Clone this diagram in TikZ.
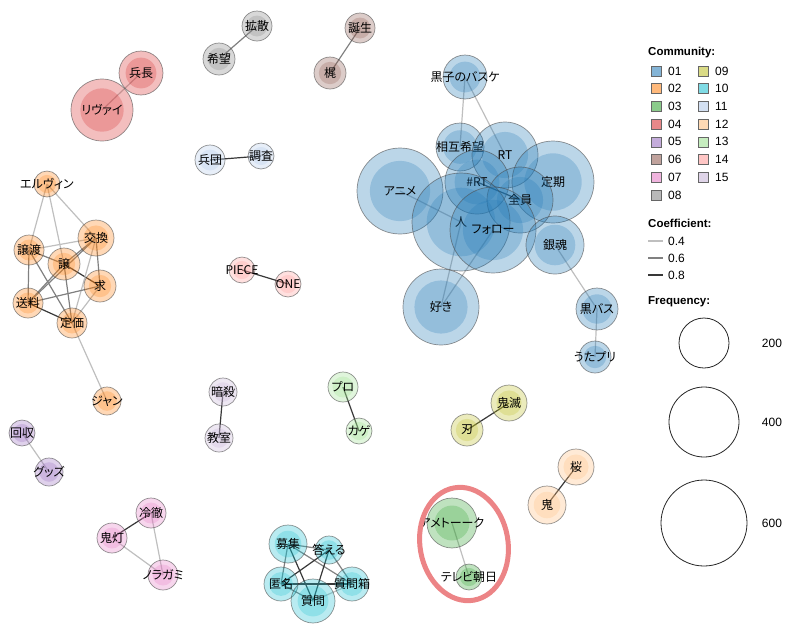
\documentclass[tikz,border=0pt]{standalone}
\usepackage{fontspec}
\setmainfont{Liberation Sans}
\newfontfamily\jp[RawFeature=+palt]{Noto Sans CJK JP}
\definecolor{c01}{HTML}{1F77B4}
\definecolor{c02}{HTML}{FF7F0E}
\definecolor{c03}{HTML}{2CA02C}
\definecolor{c04}{HTML}{D62728}
\definecolor{c05}{HTML}{9467BD}
\definecolor{c06}{HTML}{8C564B}
\definecolor{c07}{HTML}{E377C2}
\definecolor{c08}{HTML}{7F7F7F}
\definecolor{c09}{HTML}{BCBD22}
\definecolor{c10}{HTML}{17BECF}
\definecolor{c11}{HTML}{AEC7E8}
\definecolor{c12}{HTML}{FFBB78}
\definecolor{c13}{HTML}{98DF8A}
\definecolor{c14}{HTML}{FF9896}
\definecolor{c15}{HTML}{C5B0D5}
\definecolor{hl}{RGB}{236,132,134}
\pgfdeclarelayer{edges}
\pgfsetlayers{edges,main}
\tikzset{
  wn/.style={circle, inner sep=0pt, draw=black!70, draw opacity=0.6, line width=0.7pt,
    fill=#1, fill opacity=0.3, text opacity=1},
  lab/.style={font=\jp\fontsize{12}{12}\selectfont, fill opacity=1, text opacity=1, inner sep=0pt},
  ea/.style={draw=black!25, line width=1.2pt},
  eb/.style={draw=black!50, line width=1.2pt},
  ec/.style={draw=black!78, line width=1.2pt},
  sq/.style={rectangle, inner sep=0pt, minimum size=10pt, fill=#1, fill opacity=0.55,
    draw=black!60, line width=0.6pt},
  lt/.style={anchor=west, inner sep=0pt, font=\fontsize{12}{12}\selectfont},
  lh/.style={anchor=west, inner sep=0pt, font=\bfseries\fontsize{11.5}{12}\selectfont},
  fc/.style={circle, inner sep=0pt, draw=black!85, line width=0.8pt},
}
\newcommand\wnode[6]{%
  \node[wn=#5, minimum size={2*#4pt},
    path picture={\fill[#5, fill opacity=0.25] (path picture bounding box.center) circle[radius={0.7*#4pt}];},
    label={[lab]center:#6}] (#1) at (#2,#3) {};}
\begin{document}
\begin{tikzpicture}[x=1pt,y=-1pt]
\useasboundingbox (0,0) rectangle (792,630);
% ---- blue community
\wnode{kuroko}{465}{77}{22}{c01}{黒子のバスケ}
\wnode{sogo}{460}{147}{24}{c01}{相互希望}
\wnode{rt}{505}{155}{33}{c01}{RT}
\wnode{teiki}{553}{182}{41}{c01}{定期}
\wnode{anime}{400}{191}{43}{c01}{アニメ}
\wnode{hrt}{477}{182}{32}{c01}{\#RT}
\wnode{zenin}{520}{200}{33}{c01}{全員}
\wnode{hito}{461}{222}{49}{c01}{人}
\wnode{follow}{493}{230}{43}{c01}{フォロー}
\wnode{gintama}{555}{245}{29}{c01}{銀魂}
\wnode{suki}{441}{307}{38}{c01}{好き}
\wnode{kurobas}{597}{309}{21}{c01}{黒バス}
\wnode{utapri}{595}{357}{16}{c01}{うたプリ}
% ---- orange community
\wnode{erwin}{47}{184}{13}{c02}{エルヴィン}
\wnode{kokan}{96}{238}{18}{c02}{交換}
\wnode{joto}{29}{250}{15}{c02}{譲渡}
\wnode{jo}{64}{264}{16}{c02}{譲}
\wnode{motome}{100}{286}{16}{c02}{求}
\wnode{soryo}{28}{303}{15}{c02}{送料}
\wnode{teika}{72}{323}{15}{c02}{定価}
\wnode{jan}{107}{401}{14}{c02}{ジャン}
% ---- others
\wnode{heicho}{141}{73}{22}{c04}{兵長}
\wnode{levi}{102}{110}{31}{c04}{リヴァイ}
\wnode{kakusan}{257}{26}{15}{c08}{拡散}
\wnode{kibo}{219}{59}{16}{c08}{希望}
\wnode{tanjo}{360}{28}{15}{c06}{誕生}
\wnode{kaji}{330}{73}{16}{c06}{梶}
\wnode{heidan}{210}{160}{15}{c11}{兵団}
\wnode{chosa}{261}{156}{13}{c11}{調査}
\wnode{piece}{242}{270}{13}{c14}{PIECE}
\wnode{one}{288}{284}{13}{c14}{ONE}
\wnode{ansatsu}{223}{392}{14}{c15}{暗殺}
\wnode{kyoshitsu}{219}{438}{14}{c15}{教室}
\wnode{pro}{343}{387}{15}{c13}{プロ}
\wnode{kage}{359}{431}{13}{c13}{カゲ}
\wnode{kaishu}{22}{433}{13}{c05}{回収}
\wnode{goods}{49}{472}{14}{c05}{グッズ}
\wnode{reitetsu}{151}{513}{15}{c07}{冷徹}
\wnode{hozuki}{112}{538}{15}{c07}{鬼灯}
\wnode{noragami}{163}{575}{15}{c07}{ノラガミ}
\wnode{boshu}{288}{544}{19}{c10}{募集}
\wnode{kotaeru}{329}{550}{14}{c10}{答える}
\wnode{tokumei}{281}{584}{17}{c10}{匿名}
\wnode{shitsumon}{313}{601}{22}{c10}{質問}
\wnode{shitsumonbako}{352}{584}{17}{c10}{質問箱}
\wnode{kimetsu}{509}{403}{18}{c09}{鬼滅}
\wnode{yaiba}{467}{430}{16}{c09}{刃}
\wnode{sakura}{576}{467}{18}{c12}{桜}
\wnode{oni}{547}{505}{19}{c12}{鬼}
\wnode{ametalk}{452}{523}{25}{c03}{アメトーーク}
\wnode{tvasahi}{469}{577}{13}{c03}{テレビ朝日}
% ---- edges
\begin{pgfonlayer}{edges}
\draw[ea] (kuroko.center) -- (sogo.center);
\draw[ea] (kuroko.center) -- (rt.center);
\draw[ea] (suki.center) -- (hito.center);
\draw[ea] (suki.center) -- (follow.center);
\draw[ea] (gintama.center) -- (kurobas.center);
\draw[ea] (kurobas.center) -- (utapri.center);
\draw[ec] (hrt.center) -- (zenin.center);
\draw[ea] (anime.center) -- (hito.center);
%
\draw[ea] (erwin.center) -- (joto.center);
\draw[ea] (erwin.center) -- (jo.center);
\draw[ea] (erwin.center) -- (kokan.center);
\draw[ea] (joto.center) -- (kokan.center);
\draw[eb] (joto.center) -- (jo.center);
\draw[eb] (joto.center) -- (soryo.center);
\draw[eb] (joto.center) -- (teika.center);
\draw[eb] (jo.center) -- (kokan.center);
\draw[ec] (jo.center) -- (motome.center);
\draw[eb] (jo.center) -- (soryo.center);
\draw[eb] (jo.center) -- (teika.center);
\draw[eb] (kokan.center) -- (motome.center);
\draw[ea] (kokan.center) -- (teika.center);
\draw[eb] (kokan.center) -- (soryo.center);
\draw[eb] (motome.center) -- (soryo.center);
\draw[ea] (motome.center) -- (teika.center);
\draw[ec] (soryo.center) -- (teika.center);
\draw[ea] (teika.center) -- (jan.center);
%
\draw[ea] (heicho.center) -- (levi.center);
\draw[eb] (kakusan.center) -- (kibo.center);
\draw[eb] (tanjo.center) -- (kaji.center);
\draw[ec] (heidan.center) -- (chosa.center);
\draw[ec] (piece.center) -- (one.center);
\draw[ec] (ansatsu.center) -- (kyoshitsu.center);
\draw[ec] (pro.center) -- (kage.center);
\draw[ea] (kaishu.center) -- (goods.center);
\draw[ec] (reitetsu.center) -- (hozuki.center);
\draw[ea] (reitetsu.center) -- (noragami.center);
\draw[ea] (hozuki.center) -- (noragami.center);
\draw[eb] (boshu.center) -- (kotaeru.center);
\draw[eb] (boshu.center) -- (tokumei.center);
\draw[ec] (boshu.center) -- (shitsumon.center);
\draw[eb] (boshu.center) -- (shitsumonbako.center);
\draw[ec] (kotaeru.center) -- (tokumei.center);
\draw[ec] (kotaeru.center) -- (shitsumon.center);
\draw[eb] (kotaeru.center) -- (shitsumonbako.center);
\draw[ec] (tokumei.center) -- (shitsumonbako.center);
\draw[eb] (tokumei.center) -- (shitsumon.center);
\draw[ea] (shitsumon.center) -- (shitsumonbako.center);
\draw[ec] (kimetsu.center) -- (yaiba.center);
\draw[ec] (sakura.center) -- (oni.center);
\draw[ea] (ametalk.center) -- (tvasahi.center);
\end{pgfonlayer}
% ---- highlight ellipse
\draw[hl, line width=5pt, rotate around={10:(464,544)}] (464,544) ellipse[x radius=44, y radius=57];
% ---- legend
\node[lh] (hcom) at (648,53) {Community:};
\node[sq=c01] (s01) at (656,71) {};   \node[lt] (t01) at (668,71) {01};
\node[sq=c02] (s02) at (656,88.7) {}; \node[lt] (t02) at (668,88.7) {02};
\node[sq=c03] (s03) at (656,106.4) {}; \node[lt] (t03) at (668,106.4) {03};
\node[sq=c04] (s04) at (656,124.1) {}; \node[lt] (t04) at (668,124.1) {04};
\node[sq=c05] (s05) at (656,141.8) {}; \node[lt] (t05) at (668,141.8) {05};
\node[sq=c06] (s06) at (656,159.5) {}; \node[lt] (t06) at (668,159.5) {06};
\node[sq=c07] (s07) at (656,177.2) {}; \node[lt] (t07) at (668,177.2) {07};
\node[sq=c08] (s08) at (656,194.9) {}; \node[lt] (t08) at (668,194.9) {08};
\node[sq=c09] (s09) at (703,71) {};   \node[lt] (t09) at (715,71) {09};
\node[sq=c10] (s10) at (703,88.7) {}; \node[lt] (t10) at (715,88.7) {10};
\node[sq=c11] (s11) at (703,106.4) {}; \node[lt] (t11) at (715,106.4) {11};
\node[sq=c12] (s12) at (703,124.1) {}; \node[lt] (t12) at (715,124.1) {12};
\node[sq=c13] (s13) at (703,141.8) {}; \node[lt] (t13) at (715,141.8) {13};
\node[sq=c14] (s14) at (703,159.5) {}; \node[lt] (t14) at (715,159.5) {14};
\node[sq=c15] (s15) at (703,177.2) {}; \node[lt] (t15) at (715,177.2) {15};
\node[lh] (hcoef) at (648,223) {Coefficient:};
\coordinate (la1) at (648,241); \coordinate (lb1) at (663,241);
\coordinate (la2) at (648,258); \coordinate (lb2) at (663,258);
\coordinate (la3) at (648,275); \coordinate (lb3) at (663,275);
\draw[ea] (la1) -- (lb1); \node[lt] (c4) at (668,241) {0.4};
\draw[eb] (la2) -- (lb2); \node[lt] (c6) at (668,258) {0.6};
\draw[ec] (la3) -- (lb3); \node[lt] (c8) at (668,275) {0.8};
\node[lh] (hfreq) at (648,302) {Frequency:};
\node[fc, minimum size=50pt] (f200) at (704,343) {};
\node[fc, minimum size=70pt] (f400) at (704,422) {};
\node[fc, minimum size=86pt] (f600) at (704,523) {};
\node[lt, anchor=center] (n200) at (772,343) {200};
\node[lt, anchor=center] (n400) at (772,422) {400};
\node[lt, anchor=center] (n600) at (772,523) {600};
\end{tikzpicture}
\end{document}
